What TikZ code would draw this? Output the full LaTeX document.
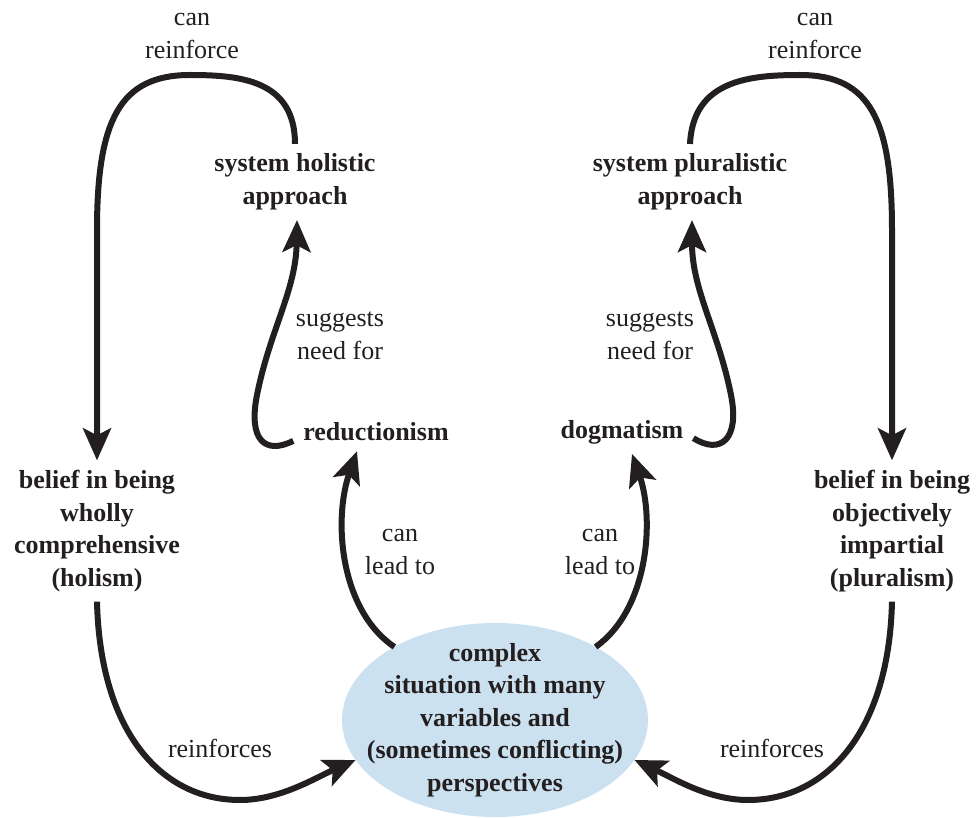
\documentclass[tikz,border=0pt]{standalone}
\usepackage{fontspec}
\setmainfont{Liberation Serif}
\usetikzlibrary{arrows.meta,shapes.geometric}
\definecolor{ink}{RGB}{35,31,32}
\definecolor{situation}{RGB}{204,225,240}
\begin{document}
\begin{tikzpicture}[x=1pt,y=-1pt,
  every node/.style={text=ink,align=center,inner sep=10pt,outer sep=0pt,
    font=\fontsize{26}{32.5}\selectfont},
  concept/.style={font=\fontsize{26}{32.5}\selectfont\bfseries},
  link/.style={draw=ink,line width=6pt,
    -{Stealth[length=32pt,width=28pt,inset=7pt]}}]
\useasboundingbox (0,0) rectangle (978,818);

% central situation
\node[ellipse,fill=situation,concept,minimum width=306pt,minimum height=194pt,inner sep=-40pt]
  (cx) at (495,720) {complex\\situation with many\\variables and\\(sometimes conflicting)\\perspectives};

% left-hand concepts
\node[concept] (shaL) at (295,182) {system holistic\\approach};
\node[concept] (red)  at (376,432) {reductionism};
\node[concept] (belL) at (97,531)  {belief in being\\wholly\\comprehensive\\(holism)};

% right-hand concepts
\node[concept] (spa)  at (690,182) {system pluralistic\\approach};
\node[concept] (dog)  at (622,432) {dogmatism};
\node[concept] (belR) at (892,531) {belief in being\\objectively\\impartial\\(pluralism)};

% link labels
\node (canL)  at (192,36)  {can\\reinforce};
\node (sugL)  at (340,336) {suggests\\need for};
\node (leadL) at (400,552) {can\\lead to};
\node (reinL) at (220,748) {reinforces};
\node (canR)  at (815,36)  {can\\reinforce};
\node (sugR)  at (650,336) {suggests\\need for};
\node (leadR) at (600,552) {can\\lead to};
\node (reinR) at (772,748) {reinforces};

% left loops
\draw[link] (shaL.north) .. controls (295,80) and (240,75) .. (190,75)
  .. controls (120,75) and (97,120) .. (97,230) -- (belL.north);
\draw[link] (red.base west) .. controls (265,455) and (248,440) .. (257,395)
  .. controls (270,330) and (296,290) .. ([xshift=2pt]shaL.south);
\draw[link] (cx.144) .. controls (340,610) and (333,520) .. ([xshift=-19pt]red.south);
\draw[link] (belL.south) .. controls (100,730) and (160,800) .. (240,800)
  .. controls (280,800) and (315,778) .. (cx.196);

% right loops
\draw[link] (spa.north) .. controls (693,80) and (750,75) .. (800,75)
  .. controls (870,75) and (892,120) .. (892,230) -- (belR.north);
\draw[link] (dog.base east) .. controls (720,455) and (740,440) .. (731,395)
  .. controls (718,330) and (692,290) .. ([xshift=2pt]spa.south);
\draw[link] (cx.36) .. controls (648,610) and (655,520) .. ([xshift=10pt]dog.south);
\draw[link] (belR.south) .. controls (889,730) and (828,800) .. (748,800)
  .. controls (708,800) and (673,778) .. (cx.-16);
\end{tikzpicture}
\end{document}
